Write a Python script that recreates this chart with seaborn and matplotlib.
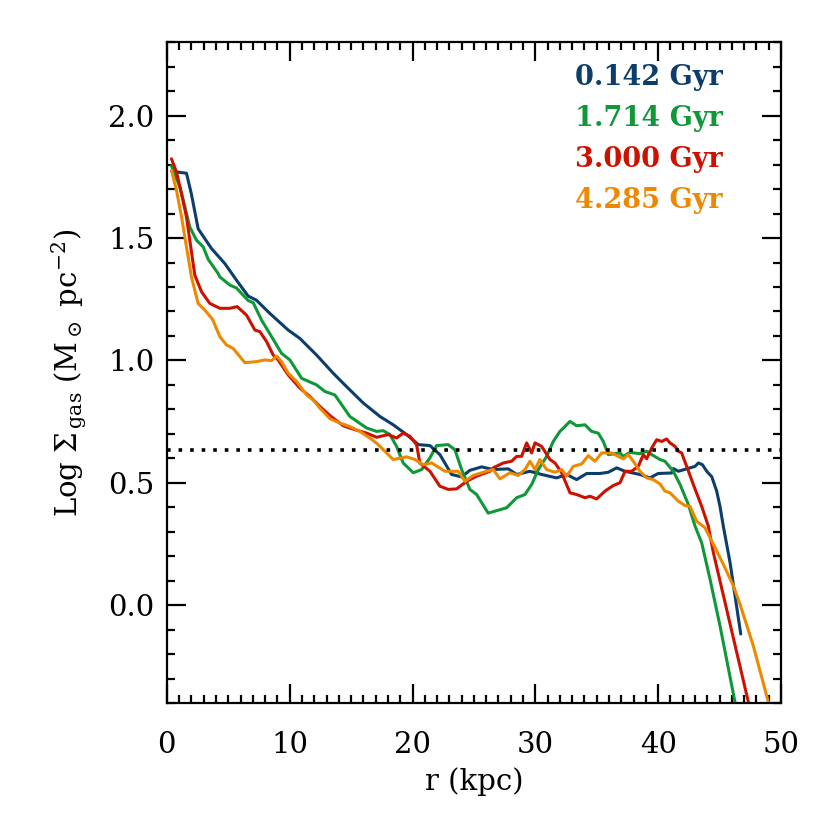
import matplotlib
matplotlib.use("Agg")
import matplotlib.pyplot as plt
from matplotlib.ticker import MultipleLocator
import numpy as np
import pandas as pd
import seaborn as sns

# data (r in kpc, log surface density)
r_0142 = [0.38, 1.6, 2.0, 2.55, 3.64, 4.72, 5.67, 6.62, 7.3, 8.39, 9.88, 10.83, 12.19, 13.54,
          14.63, 15.99, 17.35, 18.43, 19.52, 20.47, 21.42, 22.23, 23.18, 24.0, 24.67, 25.63,
          26.57, 27.79, 28.48, 29.56, 30.51, 31.73, 32.55, 33.36, 34.18, 35.26, 35.94, 36.62,
          37.3, 38.5, 39.33, 40.0, 41.1, 41.23, 41.64, 42.32, 43.0, 43.27, 43.6, 43.95, 44.36,
          44.76, 45.03, 45.3, 45.85, 46.72]
s_0142 = [1.773, 1.765, 1.68, 1.538, 1.457, 1.396, 1.328, 1.263, 1.246, 1.192, 1.124, 1.09,
          1.022, 0.948, 0.893, 0.826, 0.771, 0.737, 0.697, 0.656, 0.652, 0.615, 0.534, 0.524,
          0.551, 0.565, 0.554, 0.557, 0.534, 0.547, 0.534, 0.52, 0.534, 0.513, 0.538, 0.538,
          0.543, 0.561, 0.547, 0.534, 0.52, 0.538, 0.54, 0.558, 0.547, 0.557, 0.567, 0.581,
          0.574, 0.547, 0.525, 0.466, 0.404, 0.323, 0.174, -0.118]

r_1714 = [0.38, 1.06, 1.47, 1.87, 2.42, 2.96, 3.37, 4.18, 4.32, 5.13, 5.67, 6.62, 7.03, 7.71,
          8.53, 9.34, 10.02, 10.97, 12.19, 12.87, 13.68, 14.9, 16.26, 17.08, 17.61, 18.16,
          18.7, 19.24, 20.06, 20.74, 21.42, 21.96, 22.91, 23.45, 24.0, 24.67, 25.22, 26.16,
          27.66, 28.48, 29.15, 29.7, 30.24, 30.92, 31.46, 32.0, 32.41, 32.82, 33.36, 34.04,
          34.58, 35.12, 35.53, 35.94, 36.89, 37.16, 37.7, 38.5, 39.06, 39.47, 40.15, 40.55,
          41.23, 41.78, 42.45, 43.0, 43.54, 44.22, 45.03, 46.25]
s_1714 = [1.796, 1.708, 1.627, 1.545, 1.491, 1.464, 1.413, 1.355, 1.341, 1.308, 1.296, 1.245,
          1.236, 1.165, 1.097, 1.029, 1.002, 0.927, 0.9, 0.873, 0.859, 0.771, 0.724, 0.71,
          0.713, 0.697, 0.649, 0.581, 0.541, 0.554, 0.602, 0.652, 0.656, 0.635, 0.554, 0.473,
          0.452, 0.376, 0.398, 0.439, 0.452, 0.493, 0.554, 0.608, 0.669, 0.71, 0.73, 0.751,
          0.733, 0.737, 0.71, 0.703, 0.669, 0.615, 0.622, 0.608, 0.624, 0.619, 0.629, 0.615,
          0.595, 0.588, 0.547, 0.493, 0.412, 0.323, 0.255, 0.106, -0.084, -0.396]

r_3000 = [0.38, 0.79, 1.2, 1.6, 1.87, 2.28, 2.83, 3.5, 4.32, 5.13, 5.73, 6.49, 7.17, 7.57,
          8.12, 8.66, 9.06, 9.88, 10.83, 11.64, 12.46, 13.27, 14.36, 15.31, 16.26, 17.08,
          18.02, 18.7, 19.24, 19.79, 20.33, 20.6, 21.42, 22.23, 22.91, 23.59, 24.41, 25.22,
          26.3, 26.57, 27.39, 28.07, 28.48, 28.88, 29.29, 29.7, 29.97, 30.51, 31.19, 31.6,
          32.14, 32.82, 33.36, 34.04, 34.45, 34.99, 35.67, 36.35, 36.89, 37.3, 37.84, 38.38,
          38.79, 39.06, 39.47, 39.88, 40.28, 40.69, 40.96, 41.37, 41.64, 41.91, 42.32, 42.86,
          43.54, 44.08, 44.49, 47.34]
s_3000 = [1.824, 1.769, 1.681, 1.586, 1.491, 1.348, 1.28, 1.233, 1.213, 1.213, 1.22, 1.185,
          1.124, 1.118, 1.077, 1.022, 1.002, 0.941, 0.887, 0.853, 0.812, 0.775, 0.733, 0.717,
          0.703, 0.686, 0.697, 0.683, 0.703, 0.69, 0.656, 0.581, 0.547, 0.486, 0.473, 0.475,
          0.506, 0.527, 0.547, 0.561, 0.581, 0.588, 0.608, 0.608, 0.663, 0.622, 0.663, 0.649,
          0.595, 0.581, 0.541, 0.459, 0.452, 0.439, 0.445, 0.434, 0.466, 0.489, 0.5, 0.547,
          0.547, 0.567, 0.615, 0.598, 0.642, 0.676, 0.669, 0.679, 0.663, 0.649, 0.629, 0.622,
          0.567, 0.493, 0.404, 0.323, 0.215, -0.396]

r_4285 = [0.38, 0.79, 1.2, 1.6, 2.01, 2.55, 3.09, 3.72, 4.32, 4.86, 5.4, 6.35, 7.3, 7.98,
          8.53, 8.93, 9.34, 9.88, 10.56, 11.38, 11.91, 12.46, 13.27, 14.09, 14.9, 15.72,
          16.53, 17.21, 18.43, 19.52, 20.2, 20.87, 21.56, 22.64, 23.72, 24.27, 24.94, 26.03,
          26.57, 27.12, 27.93, 28.61, 29.15, 29.56, 29.97, 30.37, 30.92, 31.6, 32.14, 32.55,
          33.09, 33.77, 34.31, 34.85, 35.4, 36.21, 36.62, 37.16, 37.57, 37.97, 38.52, 39.06,
          39.6, 40.15, 40.55, 40.96, 41.64, 42.18, 42.59, 43.13, 43.81, 44.36, 45.3, 46.12,
          46.66, 47.74, 48.97]
s_4285 = [1.776, 1.694, 1.586, 1.464, 1.34, 1.233, 1.206, 1.168, 1.097, 1.063, 1.049, 0.991,
          0.995, 1.002, 0.999, 1.018, 0.995, 0.948, 0.914, 0.859, 0.839, 0.805, 0.762, 0.744,
          0.73, 0.71, 0.683, 0.656, 0.595, 0.606, 0.595, 0.574, 0.581, 0.547, 0.547, 0.506,
          0.53, 0.547, 0.554, 0.516, 0.541, 0.53, 0.554, 0.588, 0.554, 0.595, 0.554, 0.543,
          0.554, 0.527, 0.567, 0.577, 0.611, 0.588, 0.622, 0.622, 0.611, 0.598, 0.615, 0.588,
          0.547, 0.52, 0.513, 0.495, 0.466, 0.459, 0.425, 0.407, 0.404, 0.343, 0.316, 0.262,
          0.167, 0.079, 0.004, -0.166, -0.396]

labels = ["0.142 Gyr", "1.714 Gyr", "3.000 Gyr", "4.285 Gyr"]
colors = ["#0b3e6c", "#0e9838", "#cc1100", "#ee8800"]
threshold = 0.635

frames = []
for lab, rr, ss in zip(labels, [r_0142, r_1714, r_3000, r_4285],
                       [s_0142, s_1714, s_3000, s_4285]):
    frames.append(pd.DataFrame({"r": rr, "logsig": ss, "age": lab}))
df = pd.concat(frames, ignore_index=True)

sns.set_theme(style="ticks")
plt.rcParams["font.family"] = ["DejaVu Serif"]
plt.rcParams["mathtext.fontset"] = "dejavuserif"
plt.rcParams["text.color"] = "black"
plt.rcParams["axes.labelcolor"] = "black"
plt.rcParams["xtick.color"] = "black"
plt.rcParams["ytick.color"] = "black"

fig = plt.figure(figsize=(8.3, 8.3), dpi=100)
ax = fig.add_axes([0.201, 0.153, 0.740, 0.796])

sns.lineplot(data=df, x="r", y="logsig", hue="age", palette=dict(zip(labels, colors)),
             estimator=None, sort=False, legend=False, linewidth=2.2, ax=ax)
ax.axhline(threshold, color="black", linestyle=(0, (1, 2.2)), linewidth=2.6)

ax.set_xlim(0, 50)
ax.set_ylim(-0.4, 2.3)
ax.xaxis.set_major_locator(MultipleLocator(10))
ax.xaxis.set_minor_locator(MultipleLocator(1))
ax.yaxis.set_major_locator(MultipleLocator(0.5))
ax.yaxis.set_minor_locator(MultipleLocator(0.1))
ax.tick_params(which="both", direction="in", top=True, right=True, width=1.6, color="black")
ax.tick_params(which="major", length=13.5, labelsize=21)
ax.tick_params(which="minor", length=6)
ax.tick_params(axis="x", which="major", pad=20)
ax.tick_params(axis="y", which="major", pad=9)
for sp in ax.spines.values():
    sp.set_linewidth(1.6)
    sp.set_color("black")

ax.set_xlabel("r (kpc)", fontsize=21, labelpad=6)
ax.set_ylabel(r"Log $\Sigma_{\,\mathrm{gas}}$ (M$_\odot$ pc$^{-2}$)", fontsize=21, labelpad=14)

for i, (lab, c) in enumerate(zip(labels, colors)):
    ax.text(0.664, 0.947 - i * 0.062, lab, color=c, fontsize=19.5, fontweight="bold",
            transform=ax.transAxes, ha="left", va="center")

fig.savefig("out.png", dpi=100)
